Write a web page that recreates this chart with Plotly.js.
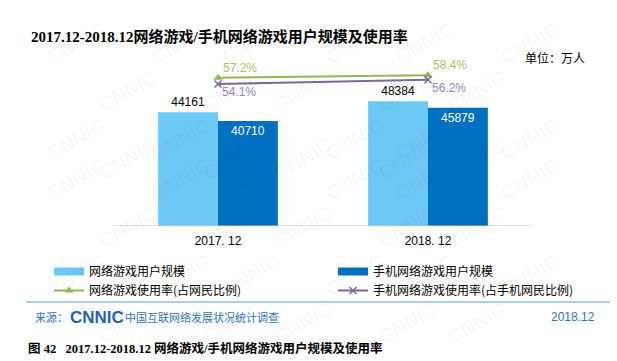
<!DOCTYPE html>
<html>
<head>
<meta charset="utf-8">
<script src="https://cdn.plot.ly/plotly-3.0.1.min.js"></script>
<style>html,body{margin:0;padding:0;background:#fff;}#chart{width:617px;height:361px;}</style>
</head>
<body>
<div id="chart"></div>
<script>
var categories = ['2017. 12', '2018. 12'];
var gameUsers = [44161, 48384];
var mobileGameUsers = [40710, 45879];
var gameRate = [57.2, 58.4];
var mobileGameRate = [54.1, 56.2];
var seriesNames = ['网络游戏用户规模', '手机网络游戏用户规模', '网络游戏使用率(占网民比例)', '手机网络游戏使用率(占手机网民比例)'];

var LIGHT = '#6cc9f5', DARK = '#0070c0', GREEN = '#92b954', PURPLE = '#8064a2';
var SANS = 'Liberation Sans, Arial, Noto Sans CJK SC, sans-serif';
var CJK = 'Noto Sans CJK SC, Liberation Sans, sans-serif';

function pct(v){ return v.toFixed(1) + '%'; }

var traces = [
  {type:'bar', x:categories, y:gameUsers, name:seriesNames[0], marker:{color:LIGHT}, showlegend:false,
   text:gameUsers.map(String), textposition:'outside', cliponaxis:false,
   textfont:{family:SANS, size:12, color:'#000'}, constraintext:'none', hoverinfo:'skip'},
  {type:'bar', x:categories, y:mobileGameUsers, name:seriesNames[1], marker:{color:DARK}, showlegend:false,
   text:mobileGameUsers.map(String), textposition:'inside', insidetextanchor:'end',
   textfont:{family:SANS, size:12, color:'#fff'}, constraintext:'none', hoverinfo:'skip'},
  // legend-only swatches for the bars
  {type:'scatter', mode:'lines', x:[null], y:[null], name:seriesNames[0], line:{color:LIGHT, width:8}},
  {type:'scatter', mode:'lines', x:[null], y:[null], name:seriesNames[1], line:{color:DARK, width:8}},
  {type:'scatter', mode:'lines+markers', x:categories, y:gameRate, yaxis:'y2', name:seriesNames[2],
   line:{color:GREEN, width:2}, marker:{symbol:'triangle-up', size:8, color:GREEN}, cliponaxis:false},
  {type:'scatter', mode:'lines+markers', x:categories, y:mobileGameRate, yaxis:'y2', name:seriesNames[3],
   line:{color:PURPLE, width:2}, marker:{symbol:'x-thin', size:7, line:{color:PURPLE, width:1.5}, color:PURPLE},
   cliponaxis:false}
];

// plot area geometry (pixels)
var L = 55, W = 562, B = 226, H = 166;
function px2x(p){ return (p - L) / W; }
function py2y(p){ return (B - p) / H; }

var annotations = [];
// faint watermark grid
for (var r = 0; r < 8; r++) {
  for (var c = 0; c < 6; c++) {
    var wx = 40 + c * 105 + (r % 2) * 52;
    var wy = 15 + r * 48;
    if (wx > 585) continue;
    annotations.push({xref:'paper', yref:'paper', x:px2x(wx), y:py2y(wy), text:'CNNIC', showarrow:false,
      textangle:-30, font:{family:'Liberation Sans, Arial', size:20, color:'rgba(0,0,0,0.03)', weight:'bold'}});
  }
}

// rate labels, anchored at the data points
categories.forEach(function(cat, i){
  annotations.push({xref:'x', yref:'y2', x:cat, y:gameRate[i], text:pct(gameRate[i]), showarrow:false,
    xanchor:'left', yanchor:'middle', xshift:3, yshift:10, font:{family:SANS, size:12, color:'#a6c463'}});
  annotations.push({xref:'x', yref:'y2', x:cat, y:mobileGameRate[i], text:pct(mobileGameRate[i]), showarrow:false,
    xanchor:'left', yanchor:'middle', xshift:2, yshift:-8, font:{family:SANS, size:12, color:'#9a80bd'}});
});

annotations.push({xref:'paper', yref:'paper', x:px2x(587), y:py2y(57), xanchor:'right', yanchor:'middle',
  text:'单位：万人', showarrow:false, font:{family:CJK, size:12, color:'#000'}});
annotations.push({xref:'paper', yref:'paper', x:px2x(33), y:py2y(317), xanchor:'left', yanchor:'middle',
  text:'来源：', showarrow:false, font:{family:CJK, size:11, color:'#2e75b6'}});
annotations.push({xref:'paper', yref:'paper', x:px2x(68), y:py2y(317), xanchor:'left', yanchor:'middle',
  text:'<b>CNNIC</b>', showarrow:false, font:{family:'Liberation Sans, Arial', size:17, color:'#1f64ad'}});
annotations.push({xref:'paper', yref:'paper', x:px2x(123), y:py2y(317), xanchor:'left', yanchor:'middle',
  text:'中国互联网络发展状况统计调查', showarrow:false, font:{family:CJK, size:11, color:'#2e75b6'}});
annotations.push({xref:'paper', yref:'paper', x:px2x(597), y:py2y(317), xanchor:'right', yanchor:'middle',
  text:'2018.12', showarrow:false, font:{family:SANS, size:12, color:'#2e75b6'}});
annotations.push({xref:'paper', yref:'paper', x:px2x(26), y:py2y(348), xanchor:'left', yanchor:'middle',
  text:'<b>图 42&nbsp;&nbsp;&nbsp;2017.12-2018.12 网络游戏/手机网络游戏用户规模及使用率</b>', showarrow:false,
  font:{family:'Liberation Serif, Noto Sans CJK SC, serif', size:12.5, color:'#000'}});

var layout = {
  width:617, height:361,
  margin:{l:L, r:617 - L - W, t:60, b:361 - B, pad:0},
  paper_bgcolor:'#fff', plot_bgcolor:'rgba(0,0,0,0)',
  title:{text:'<b>2017.12-2018.12网络游戏/手机网络游戏用户规模及使用率</b>', x:31/617, xref:'container', xanchor:'left',
         y:1-37/361, yref:'container', yanchor:'middle',
         font:{family:'Liberation Serif, Noto Sans CJK SC, serif', size:15, color:'#000'}},
  barmode:'group', bargap:0.43, bargroupgap:0,
  xaxis:{type:'category', range:[-(218 - L) / 210, -(218 - L) / 210 + W / 210], showline:false,
         ticks:'', showgrid:false, zeroline:false, tickfont:{family:SANS, size:12, color:'#000'}, ticklabelstandoff:6},
  yaxis:{range:[0, 64400], visible:false, showgrid:false, zeroline:false},
  yaxis2:{range:[-15.63, 65.9], overlaying:'y', visible:false, showgrid:false, zeroline:false},
  showlegend:true,
  legend:{orientation:'h', x:px2x(52), xanchor:'left', y:py2y(257), yanchor:'top',
          entrywidth:239, entrywidthmode:'pixels', itemwidth:30, traceorder:'normal',
          font:{family:CJK, size:12, color:'#000'}, bgcolor:'rgba(0,0,0,0)'},
  shapes:[
    {type:'line', xref:'x', yref:'y', x0:-0.5, x1:1.5, y0:0, y1:0, line:{color:'#bfbfbf', width:1}},
    {type:'line', xref:'paper', yref:'paper', x0:px2x(26), x1:px2x(610), y0:py2y(302), y1:py2y(302),
     line:{color:'#5b9bd5', width:1}}],
  annotations:annotations
};

Plotly.newPlot('chart', traces, layout, {displayModeBar:false, staticPlot:true});
</script>
</body>
</html>
